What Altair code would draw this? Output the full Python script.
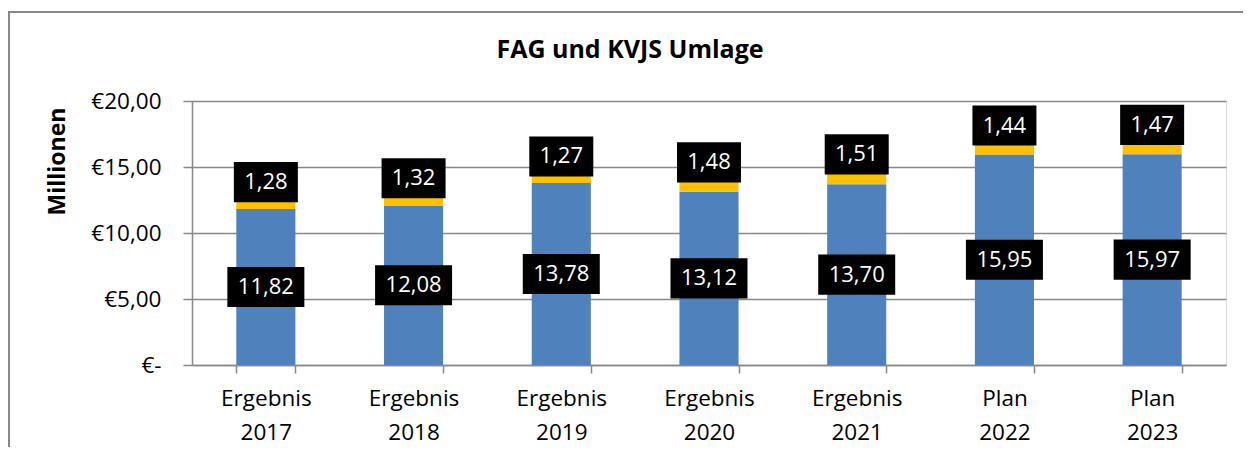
import altair as alt
import pandas as pd

categories = ["Ergebnis 2017", "Ergebnis 2018", "Ergebnis 2019", "Ergebnis 2020",
              "Ergebnis 2021", "Plan 2022", "Plan 2023"]
fag = [11.82, 12.08, 13.78, 13.12, 13.70, 15.95, 15.97]
kvjs = [1.28, 1.32, 1.27, 1.48, 1.51, 1.44, 1.47]

df = pd.DataFrame({"cat": categories, "fag": fag, "kvjs": kvjs})

FONT = "Open Sans"
BLUE = "#4F81BD"
YELLOW = "#FFC000"
GRAY = "#888888"

fmt = "replace(format({}, '.2f'), '.', ',')"

base = alt.Chart(df).transform_calculate(
    total="datum.fag + datum.kvjs",
    fag_lab=fmt.format("datum.fag"),
    kvjs_lab=fmt.format("datum.kvjs"),
    fag_mid="datum.fag / 2",
    fag_lo="datum.fag / 2 - 1.52",
    fag_hi="datum.fag / 2 + 1.52",
    k_mid="datum.fag + datum.kvjs + 0.75",
    k_lo="datum.fag + datum.kvjs + 0.75 - 1.52",
    k_hi="datum.fag + datum.kvjs + 0.75 + 1.52",
)

x = alt.X("cat:N", sort=categories, title=None,
          scale=alt.Scale(paddingInner=0.6, paddingOuter=0.3),
          axis=alt.Axis(labelExpr="split(datum.label, ' ')", labelAngle=0,
                        labelFont=FONT, labelFontSize=22.5, labelColor="#000000",
                        labelLineHeight=34, labelPadding=14, labelBaseline="top",
                        tickBand="extent", tickSize=8, tickColor=GRAY, tickWidth=1.5,
                        domainColor=GRAY, domainWidth=1.5, grid=False))

yscale = alt.Scale(domain=[0, 20], nice=False)

bar_fag = base.mark_bar(color=BLUE).encode(
    x=x,
    y=alt.Y("fag:Q", scale=yscale, title="Millionen",
            axis=alt.Axis(values=[0, 5, 10, 15, 20],
                          labelExpr="datum.value == 0 ? '€-' : '€' + replace(format(datum.value, '.2f'), '.', ',')",
                          labelFont=FONT, labelFontSize=22.5, labelColor="#000000",
                          labelPadding=22, tickSize=9, tickColor=GRAY, tickWidth=1.5,
                          domainColor=GRAY, domainWidth=1.5,
                          gridColor=GRAY, gridWidth=1.5,
                          titleFont=FONT, titleFontSize=23, titleFontWeight="bold",
                          titleColor="#000000", titleAngle=-90, titleX=-135, titleY=60,
                          titleAlign="center", titleBaseline="middle")),
)

bar_kvjs = base.mark_bar(color=YELLOW).encode(
    x=x, y=alt.Y("fag:Q", scale=yscale), y2="total:Q")

box_fag = base.mark_bar(color="#000000", size=77).encode(
    x=x, y=alt.Y("fag_lo:Q", scale=yscale), y2="fag_hi:Q")
txt_fag = base.mark_text(color="#FFFFFF", font=FONT, fontSize=22, baseline="middle").encode(
    x=x, y=alt.Y("fag_mid:Q", scale=yscale), text="fag_lab:N")

box_k = base.mark_bar(color="#000000", size=64).encode(
    x=x, y=alt.Y("k_lo:Q", scale=yscale), y2="k_hi:Q")
txt_k = base.mark_text(color="#FFFFFF", font=FONT, fontSize=22, baseline="middle").encode(
    x=x, y=alt.Y("k_mid:Q", scale=yscale), text="kvjs_lab:N")

title = alt.Chart(pd.DataFrame({"t": ["FAG und KVJS Umlage"]})).mark_text(
    font=FONT, fontSize=25, fontWeight="bold", color="#000000", baseline="middle"
).encode(x=alt.value(438), y=alt.value(-51), text="t:N")

border = alt.Chart(pd.DataFrame({"a": [0]})).mark_rect(
    fill=None, stroke=GRAY, strokeWidth=2
).encode(x=alt.value(-183), x2=alt.value(1080), y=alt.value(-89), y2=alt.value(400))

chart = alt.layer(border, bar_fag, bar_kvjs, box_fag, txt_fag, box_k, txt_k, title).properties(
    width=1034, height=264,
    autosize=alt.AutoSizeParams(type="none"),
    padding={"left": 184, "top": 93, "right": 17, "bottom": 82},
).configure_view(stroke=None).configure(background="#FFFFFF")

chart.save("out.html", embed_options={"renderer": "svg", "actions": False})
